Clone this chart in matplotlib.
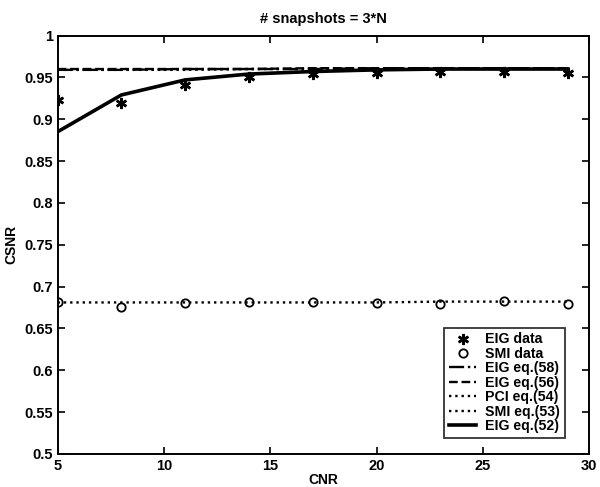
import matplotlib.pyplot as plt
import numpy as np

plt.rcParams['font.family'] = ['Liberation Sans', 'DejaVu Sans']
plt.rcParams['font.weight'] = 'bold'

# Data
cnr = [5, 8, 11, 14, 17, 20, 23, 26, 29]
eig_data = [0.923, 0.919, 0.941, 0.950, 0.954, 0.955, 0.956, 0.956, 0.955]
smi_data = [0.681, 0.675, 0.680, 0.681, 0.681, 0.680, 0.679, 0.683, 0.679]
eig_58 = [0.959, 0.959, 0.960, 0.960, 0.960, 0.961, 0.961, 0.961, 0.961]
eig_56 = [0.960, 0.960, 0.960, 0.960, 0.961, 0.961, 0.961, 0.961, 0.961]
pci_54 = [0.959, 0.959, 0.959, 0.960, 0.960, 0.960, 0.960, 0.960, 0.960]
smi_53 = [0.681, 0.681, 0.681, 0.681, 0.681, 0.681, 0.682, 0.682, 0.682]
eig_52 = [0.885, 0.929, 0.947, 0.954, 0.957, 0.959, 0.960, 0.960, 0.960]

yticks = [0.5, 0.55, 0.6, 0.65, 0.7, 0.75, 0.8, 0.85, 0.9, 0.95, 1]
ytick_labels = ['0.5', '0.55', '0.6', '0.65', '0.7', '0.75', '0.8', '0.85', '0.9', '0.95', '1']
xticks = [5, 10, 15, 20, 25, 30]

fig = plt.figure(figsize=(6, 4.87), dpi=100)
ax = fig.add_axes([0.096, 0.068, 0.886, 0.859])

ax.plot(cnr, eig_data, linestyle='none', marker=(6, 2, 0), color='black',
        markersize=8, markeredgewidth=1.8, label='EIG data')
ax.plot(cnr, smi_data, linestyle='none', marker='o', markerfacecolor='none',
        markeredgecolor='black', markersize=6, markeredgewidth=1.3, label='SMI data')
ax.plot(cnr, eig_58, color='black', linestyle='-.', linewidth=1.7, label='EIG eq.(58)')
ax.plot(cnr, eig_56, color='black', linestyle='--', linewidth=1.7, label='EIG eq.(56)')
ax.plot(cnr, pci_54, color='black', linestyle=':', linewidth=1.7, label='PCI eq.(54)')
ax.plot(cnr, smi_53, color='black', linestyle=':', linewidth=1.7, label='SMI eq.(53)')
ax.plot(cnr, eig_52, color='black', linestyle='-', linewidth=2.6, label='EIG eq.(52)')

ax.set_xlim(5, 30)
ax.set_ylim(0.5, 1)
ax.set_xticks(xticks)
ax.set_yticks(yticks)
ax.set_yticklabels(ytick_labels)
ax.tick_params(direction='in', top=True, right=True, labelsize=10.5, width=1.2, length=5)
for s in ax.spines.values():
    s.set_linewidth(1.4)

ax.set_xlabel('CNR', fontsize=10, fontweight='bold', labelpad=0)
ax.set_ylabel('CSNR', fontsize=10, fontweight='bold', labelpad=4)
ax.set_title('# snapshots = 3*N', fontsize=10.5, fontweight='bold', pad=9)

leg = ax.legend(loc='lower right', bbox_to_anchor=(0.955, 0.038), fontsize=10.2,
                frameon=True, fancybox=False, edgecolor='black', borderpad=0.35,
                labelspacing=0.03, handlelength=1.9, handletextpad=0.65, borderaxespad=0)
leg.get_frame().set_linewidth(1.3)
for t in leg.get_texts():
    t.set_fontweight('bold')

fig.savefig('out.png', dpi=100)
